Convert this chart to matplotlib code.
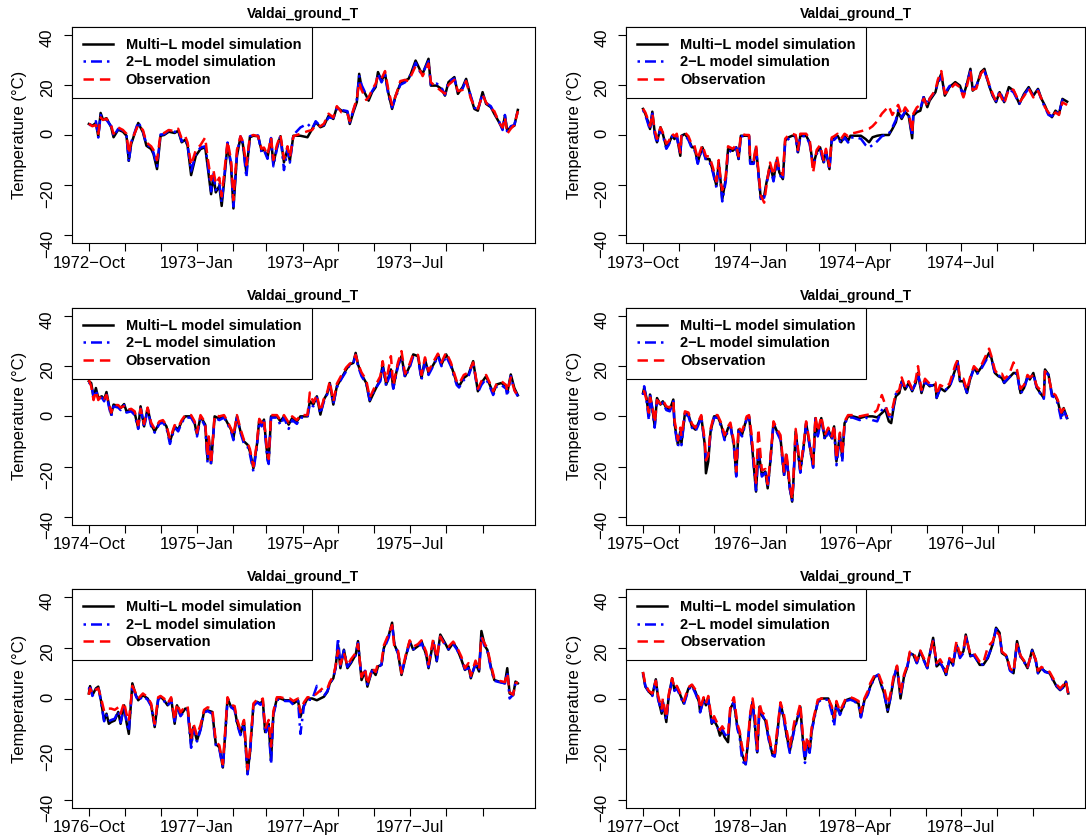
import numpy as np
import matplotlib
matplotlib.use("Agg")
import matplotlib.pyplot as plt
import matplotlib.dates as mdates

plt.rcParams['font.family'] = ['Liberation Sans', 'DejaVu Sans']
plt.rcParams['lines.scale_dashes'] = False

TITLE = "Valdai_ground_T"
YLABEL = "Temperature (°C)"
SERIES_LABELS = ["Multi\u2212L model simulation", "2\u2212L model simulation", "Observation"]
Y_TICKS = [-40, -20, 0, 20, 40]
MONTH_NAMES = ["Jan", "Feb", "Mar", "Apr", "May", "Jun",
               "Jul", "Aug", "Sep", "Oct", "Nov", "Dec"]
LABELLED_MONTHS = [10, 1, 4, 7]

# ---- hydrological year 1972/73 (days counted from 1 October) ----
p1_start = "1972-10-01"
p1_day = [0, 3, 6, 8, 10, 12, 15, 19, 21, 25,
          29, 32, 34, 36, 42, 46, 49, 53, 55, 58,
          61, 64, 68, 73, 76, 79, 82, 84, 87, 91,
          95, 99, 101, 104, 106, 108, 111, 113, 115, 118,
          121, 123, 126, 129, 131, 134, 137, 140, 144, 147,
          149, 152, 155, 157, 160, 163, 166, 169, 171, 174,
          180, 186, 190, 193, 197, 200, 204, 208, 211, 215,
          220, 222, 225, 228, 230, 232, 236, 238, 241, 244,
          246, 249, 252, 255, 258, 261, 265, 269, 272, 274,
          278, 282, 284, 289, 291, 296, 300, 303, 306, 311,
          314, 318, 321, 325, 328, 331, 335, 338, 342, 345,
          349, 352, 354, 356, 359, 362, 365]
p1_multi = [4.4, 3.7, 4.8, -0.5, 8.8, 6.1, 6.7, 3.1, -0.9, 2.1,
            1.3, -0.3, -10.3, -3.6, 4.8, 1.1, -4.3, -5.6, -7.6, -13.6,
            -0.3, 0.0, 1.3, 0.8, 1.7, -2.9, -1.9, -4.3, -16.0, -8.3,
            -5.6, -4.9, -12.3, -23.6, -16.3, -22.9, -20.3, -28.3, -18.9, -3.6,
            -12.3, -29.3, -8.3, -0.9, -3.6, -14.9, -0.9, -0.3, -0.5, -6.3,
            -5.6, -8.9, -1.6, -11.6, -4.9, -0.5, -10.9, -5.6, -10.3, -0.3,
            -0.3, -0.9, 2.4, 5.1, 3.1, 3.7, 7.7, 6.4, 11.1, 9.7,
            9.1, 4.4, 9.1, 13.1, 24.4, 19.1, 15.7, 13.7, 17.1, 19.1,
            25.1, 21.7, 24.4, 16.4, 10.4, 15.7, 20.4, 21.7, 22.4, 24.4,
            29.7, 25.7, 24.4, 30.4, 19.7, 19.7, 18.4, 15.7, 21.1, 23.1,
            16.4, 19.1, 22.4, 15.1, 10.4, 9.7, 17.1, 12.4, 11.1, 8.4,
            5.1, 2.4, 7.7, 1.7, 3.1, 3.7, 10.0]
p1_twol = [4.0, 4.2, 5.5, -1.0, 8.0, 6.5, 6.0, 3.5, -0.5, 2.5,
           1.8, 0.0, -10.8, -3.0, 5.2, 1.5, -3.8, -5.0, -7.0, -12.5,
           0.2, 0.3, 1.8, 1.2, 2.0, -2.5, -1.5, -4.0, -14.5, -7.5,
           -5.0, -4.5, -11.0, -22.5, -15.5, -22.0, -19.5, -27.0, -18.0, -3.0,
           -11.5, -28.5, -7.5, -0.5, -3.0, -17.0, -0.5, 0.0, -0.2, -7.0,
           -6.0, -9.5, -1.2, -12.5, -5.5, -0.3, -14.0, -6.0, -11.0, 0.0,
           3.0, 4.5, 2.5, 5.5, 3.5, 4.0, 7.0, 6.8, 10.5, 10.0,
           9.5, 5.0, 9.8, 14.0, 23.5, 20.0, 16.0, 14.5, 17.5, 19.8,
           24.5, 21.0, 24.0, 15.5, 11.0, 15.0, 20.0, 21.0, 22.8, 24.0,
           28.8, 25.0, 24.8, 29.5, 20.0, 20.5, 19.0, 16.0, 21.5, 22.5,
           17.0, 18.5, 22.0, 15.5, 11.0, 10.0, 16.5, 12.8, 11.5, 8.8,
           5.5, 2.0, 8.0, 1.0, 3.5, 4.0, 9.5]
p1_obs = [4.5, 3.5, 4.0, 0.5, 7.0, 6.0, 6.5, 3.8, 0.5, 3.0,
          2.0, 0.5, -7.5, -2.5, 4.0, 2.0, -3.0, -4.5, -6.0, -10.0,
          0.5, 0.8, 2.0, 1.5, 2.5, -1.5, -0.5, -3.0, -12.0, -6.0,
          -4.0, -1.0, -9.0, -18.0, -14.0, -19.5, -17.0, -24.5, -16.0, -2.5,
          -10.0, -26.0, -6.0, -0.5, -2.5, -12.0, -0.5, 0.0, -0.5, -5.5,
          -5.0, -8.0, -1.0, -10.0, -4.0, 0.0, -9.5, -4.5, -9.0, -0.5,
          0.5, 1.5, 2.0, 4.0, 3.5, 4.5, 8.5, 7.0, 11.5, 9.0,
          8.5, 5.5, 10.0, 14.5, 21.0, 18.0, 14.0, 15.0, 18.0, 20.5,
          23.5, 22.5, 25.5, 17.5, 12.0, 15.5, 21.5, 22.0, 21.5, 23.5,
          27.5, 25.5, 23.5, 28.5, 21.0, 19.0, 17.5, 16.5, 20.0, 22.0,
          17.5, 18.0, 21.5, 14.5, 11.5, 10.5, 16.0, 13.0, 10.5, 9.5,
          5.0, 3.0, 7.0, 0.5, 2.5, 4.0, 9.5]

# ---- hydrological year 1973/74 ----
p2_start = "1973-10-01"
p2_day = [0, 2, 4, 6, 8, 10, 12, 15, 17, 20,
          22, 25, 27, 29, 32, 33, 36, 39, 42, 44,
          47, 49, 51, 54, 57, 60, 63, 65, 67, 68,
          71, 73, 77, 80, 82, 84, 88, 91, 92, 95,
          97, 101, 104, 106, 109, 112, 115, 117, 120, 122,
          125, 128, 131, 133, 135, 140, 143, 146, 149, 152,
          155, 157, 160, 162, 164, 167, 170, 173, 176, 178,
          183, 187, 191, 194, 197, 201, 205, 211, 214, 217,
          219, 222, 225, 228, 231, 232, 235, 238, 241, 244,
          246, 251, 253, 256, 259, 263, 268, 272, 275, 278,
          281, 283, 286, 290, 293, 297, 300, 303, 306, 310,
          314, 318, 323, 327, 331, 335, 339, 342, 345, 348,
          351, 354, 357, 360, 364]
p2_multi = [10.4, 8.4, 5.7, 2.4, 9.3, 1.1, -2.9, 3.1, 0.4, -4.9,
            -3.6, -0.3, -1.6, -0.3, -8.3, -0.3, 0.4, -1.6, -4.9, -4.9,
            -10.9, -7.6, -4.9, -9.6, -9.6, -14.3, -20.3, -10.9, -20.3, -25.6,
            -17.6, -5.6, -6.3, -4.9, -9.6, -0.3, -0.3, -0.3, -10.9, -10.9,
            -4.9, -24.9, -24.3, -18.9, -12.3, -17.6, -9.6, -14.9, -17.6, -2.3,
            -0.9, -0.3, -0.3, -6.9, -0.3, -0.3, -2.9, -12.3, -6.9, -4.9,
            -10.9, -6.3, -13.6, -1.6, -1.6, -0.3, -2.9, -0.3, -2.3, -0.3,
            -0.3, -0.3, -1.6, -2.9, -0.9, -0.3, 0.0, 0.0, 2.4, 5.1,
            9.1, 6.4, 9.1, 7.7, -1.3, 7.7, 9.1, 9.7, 15.1, 11.1,
            13.7, 17.1, 21.1, 24.4, 15.7, 19.1, 21.1, 19.7, 15.7, 20.4,
            26.4, 17.7, 19.1, 25.1, 26.4, 19.7, 15.7, 13.1, 17.1, 13.1,
            19.1, 17.7, 12.4, 16.4, 19.1, 15.7, 18.4, 14.4, 11.7, 8.4,
            7.1, 9.7, 8.4, 14.4, 13.3]
p2_twol = [10.0, 8.0, 5.0, 2.0, 8.5, 0.5, -3.5, 2.5, 0.0, -5.5,
           -4.0, -0.5, -2.0, -0.5, -8.0, -0.5, 0.0, -2.0, -5.5, -5.5,
           -11.5, -8.0, -5.5, -10.0, -10.5, -15.0, -21.0, -11.5, -21.0, -26.5,
           -18.5, -6.0, -7.0, -5.0, -10.0, -0.5, -0.5, -0.5, -11.5, -11.5,
           -5.5, -25.5, -25.0, -19.5, -13.0, -18.5, -10.5, -15.5, -18.0, -3.0,
           -1.5, -0.5, -0.5, -7.5, -0.5, -0.5, -3.5, -12.5, -7.5, -5.5,
           -11.5, -7.0, -14.0, -2.0, -2.0, -0.5, -3.5, -1.0, -3.0, -1.0,
           -1.0, -1.5, -4.0, -5.0, -4.0, -2.5, -0.5, 0.5, 3.0, 6.0,
           10.0, 7.0, 9.5, 8.5, -0.5, 8.5, 10.0, 10.5, 15.5, 12.0,
           14.5, 17.5, 20.5, 23.5, 16.5, 19.5, 20.5, 19.0, 16.0, 21.0,
           25.5, 18.5, 19.5, 24.5, 25.5, 20.0, 16.0, 13.5, 17.5, 13.5,
           18.5, 17.0, 12.5, 16.0, 18.5, 16.0, 18.0, 14.0, 11.0, 8.0,
           7.5, 9.5, 8.5, 14.0, 13.5]
p2_obs = [10.5, 9.0, 6.5, 3.5, 8.5, 2.0, -1.5, 3.0, 1.0, -3.5,
          -2.5, 0.5, -0.5, 0.5, -7.0, 0.5, 1.0, -0.5, -4.0, -4.0,
          -9.5, -6.5, -4.0, -8.5, -8.5, -13.0, -18.5, -10.0, -19.5, -22.0,
          -16.5, -4.5, -5.5, -4.0, -8.5, 0.5, 0.0, 0.0, -9.5, -10.0,
          -4.0, -24.0, -27.0, -20.0, -11.0, -16.0, -8.5, -13.5, -16.0, -1.5,
          0.0, 0.5, 0.0, -6.0, 0.5, 0.5, -1.5, -15.0, -6.0, -4.0,
          -10.0, -5.5, -12.5, -1.0, -0.5, 0.5, -1.5, 0.5, -0.5, 0.5,
          1.0, 1.5, 2.0, 2.5, 3.5, 5.5, 8.5, 11.5, 8.0, 10.5,
          12.0, 8.0, 11.0, 9.0, 1.0, 8.5, 11.0, 12.0, 14.5, 11.5,
          14.5, 18.0, 22.0, 25.5, 16.5, 18.0, 20.5, 19.0, 15.0, 19.5,
          25.5, 18.0, 18.5, 24.5, 26.0, 20.5, 16.5, 13.5, 16.5, 12.5,
          18.5, 18.0, 13.0, 15.5, 18.5, 15.0, 17.5, 14.5, 11.0, 9.0,
          7.5, 9.0, 8.0, 13.0, 12.0]

# ---- hydrological year 1974/75 ----
p3_start = "1974-10-01"
p3_day = [0, 2, 4, 6, 8, 11, 13, 15, 17, 19,
          21, 25, 27, 30, 32, 36, 39, 42, 44, 47,
          50, 53, 56, 60, 63, 66, 69, 73, 76, 79,
          82, 87, 90, 92, 95, 99, 101, 102, 104, 107,
          111, 115, 118, 121, 123, 126, 129, 132, 135, 137,
          140, 143, 145, 147, 149, 152, 153, 155, 160, 163,
          166, 170, 173, 177, 180, 186, 188, 191, 194, 197,
          200, 203, 205, 208, 211, 215, 219, 222, 225, 227,
          229, 232, 236, 239, 243, 248, 250, 253, 257, 259,
          263, 266, 269, 273, 276, 280, 283, 286, 289, 294,
          297, 300, 304, 308, 313, 315, 319, 323, 327, 331,
          334, 338, 341, 344, 347, 351, 355, 356, 359, 362,
          365]
p3_multi = [14.0, 13.3, 7.3, 11.3, 7.3, 8.0, 6.7, 9.7, 4.7, 0.7,
            4.7, 4.0, 3.3, 4.9, 2.0, 2.7, 1.3, -4.7, 4.0, -4.0,
            3.3, -3.3, -6.0, -2.7, -2.0, -4.0, -10.0, -4.0, -5.3, -2.0,
            0.0, 0.0, -2.7, -7.3, 0.0, -3.3, -17.3, -8.7, -18.7, 0.0,
            -0.9, 0.0, -2.7, -5.3, -8.7, 0.0, -6.0, -10.0, -11.3, -14.0,
            -20.7, -11.3, -1.3, -3.3, -1.3, -16.7, -18.0, 0.0, 0.0, -2.0,
            0.0, -3.3, -0.7, -2.0, 0.0, 0.0, 6.0, 4.7, 8.0, 0.7,
            6.7, 9.3, 13.3, 4.7, 12.0, 15.3, 18.7, 20.7, 21.3, 25.3,
            20.7, 16.7, 13.3, 6.0, 10.0, 14.7, 20.7, 12.7, 18.7, 11.3,
            20.7, 24.0, 16.0, 20.0, 24.7, 24.0, 15.3, 22.7, 17.3, 21.3,
            24.7, 20.7, 24.7, 20.7, 13.3, 12.0, 15.3, 16.7, 22.0, 10.0,
            13.3, 16.0, 12.7, 9.3, 12.7, 13.3, 12.0, 9.3, 16.7, 11.3,
            8.4]
p3_twol = [13.5, 12.5, 8.0, 10.5, 7.0, 7.5, 6.0, 9.0, 4.0, 0.0,
           4.0, 3.5, 2.5, 4.5, 1.5, 2.0, 0.5, -5.0, 3.5, -4.5,
           3.0, -4.0, -6.5, -3.0, -2.5, -4.5, -11.0, -4.5, -6.0, -2.5,
           -0.5, -0.5, -3.0, -8.0, -0.5, -4.0, -18.5, -9.5, -19.5, -0.5,
           -1.5, -0.5, -3.0, -6.0, -9.5, -0.5, -6.5, -11.0, -12.0, -15.0,
           -22.0, -12.0, -2.0, -4.0, -2.0, -17.5, -19.0, -0.5, -0.5, -3.5,
           -0.5, -5.0, -1.5, -3.0, -0.5, -0.5, 5.0, 4.0, 7.5, 1.0,
           6.0, 9.0, 12.5, 5.0, 11.5, 15.0, 18.0, 20.5, 21.0, 24.5,
           20.0, 16.0, 13.0, 6.5, 10.5, 14.0, 20.0, 12.0, 18.0, 11.0,
           20.0, 23.5, 15.5, 19.5, 24.0, 23.5, 14.5, 22.0, 16.5, 21.0,
           24.0, 20.0, 24.0, 20.0, 12.5, 11.5, 14.5, 16.0, 21.5, 9.5,
           12.5, 15.0, 12.0, 8.5, 12.0, 12.5, 11.0, 8.0, 16.0, 10.5,
           8.0]
p3_obs = [14.5, 12.0, 6.5, 10.0, 6.5, 8.5, 7.0, 8.5, 5.0, 1.5,
          4.5, 4.5, 3.5, 4.0, 2.5, 3.0, 2.0, -3.5, 3.0, -3.0,
          3.5, -2.5, -5.0, -2.0, -1.5, -3.5, -9.0, -3.5, -4.5, -1.5,
          0.5, 0.5, -2.0, -6.5, 0.5, -2.5, -16.0, -8.0, -19.0, 0.5,
          0.0, 0.5, -2.0, -5.0, -7.5, 0.5, -5.0, -9.5, -10.5, -13.0,
          -20.0, -10.5, -1.0, -2.5, -1.0, -15.5, -17.0, 0.5, 0.5, -1.5,
          0.5, -2.5, 0.0, -1.5, 0.5, 0.5, 9.5, 5.5, 8.5, 2.0,
          7.0, 10.0, 14.0, 6.0, 13.0, 16.5, 19.5, 21.0, 22.0, 24.5,
          21.0, 17.5, 14.5, 7.5, 11.5, 16.0, 22.0, 14.0, 24.0, 12.5,
          21.5, 26.0, 17.0, 21.0, 25.0, 24.5, 16.5, 23.5, 18.0, 22.5,
          25.0, 21.5, 25.5, 21.5, 14.0, 13.0, 16.5, 17.5, 21.5, 11.0,
          14.0, 16.5, 13.5, 10.0, 13.0, 14.0, 12.5, 10.0, 15.5, 10.5,
          8.0]

# ---- hydrological year 1975/76 ----
p4_start = "1975-10-01"
p4_day = [0, 1, 3, 5, 6, 8, 10, 12, 15, 17,
          20, 23, 26, 27, 29, 30, 32, 33, 36, 39,
          42, 45, 47, 50, 53, 54, 56, 58, 61, 64,
          67, 70, 73, 75, 78, 80, 82, 85, 89, 91,
          93, 97, 99, 102, 105, 107, 109, 112, 115, 118,
          121, 123, 126, 128, 129, 131, 132, 135, 138, 140,
          143, 146, 148, 150, 153, 156, 159, 162, 164, 166,
          169, 171, 173, 176, 180, 186, 191, 197, 201, 205,
          208, 211, 213, 215, 217, 220, 222, 225, 228, 231,
          234, 236, 239, 242, 246, 251, 252, 255, 259, 263,
          268, 270, 272, 275, 278, 281, 284, 287, 291, 294,
          297, 299, 302, 305, 308, 310, 314, 318, 321, 324,
          327, 330, 332, 335, 338, 341, 344, 345, 348, 351,
          354, 356, 359, 361, 364]
p4_multi = [9.3, 11.3, 7.3, 0.0, 8.7, 3.3, -4.0, 7.3, 4.7, 6.0,
            3.3, 2.7, 6.7, -2.7, -8.7, -11.3, -6.0, -10.7, 1.3, 0.7,
            -4.0, -5.3, -3.3, 0.0, -11.3, -22.7, -18.0, -6.0, 0.0, 0.0,
            -3.3, -8.7, -4.7, -3.3, -11.3, -23.3, -5.3, -7.3, -0.7, 0.0,
            -8.7, -30.0, -13.3, -23.3, -22.0, -28.7, -19.3, -2.7, -6.0, -8.7,
            -23.3, -15.3, -28.7, -34.0, -26.7, -6.0, -10.0, -22.0, -11.3, -2.7,
            -11.3, -20.0, -0.7, -7.3, -0.7, -8.7, -5.3, -8.7, -4.0, -18.0,
            -7.3, -16.7, -2.7, 0.0, 0.0, -0.7, 0.0, 0.0, -0.4, 1.3,
            2.7, -2.0, -2.7, 3.3, 8.0, 9.3, 14.0, 10.7, 13.3, 10.0,
            13.3, 17.3, 9.3, 14.0, 12.0, 12.7, 7.3, 11.3, 10.0, 12.0,
            18.7, 22.0, 14.0, 14.0, 9.3, 15.3, 19.3, 17.3, 20.0, 22.7,
            25.3, 23.3, 17.3, 16.0, 15.3, 13.3, 15.3, 17.3, 17.3, 9.3,
            11.3, 16.0, 14.7, 17.3, 11.3, 9.3, 7.3, 18.7, 16.7, 8.7,
            8.0, 6.0, 0.0, 3.3, -0.7]
p4_twol = [8.5, 12.0, 6.5, -1.5, 9.0, 2.5, -4.5, 6.5, 4.0, 5.5,
           2.5, 2.0, 6.0, -3.5, -9.5, -12.0, -7.0, -11.5, 1.0, 0.0,
           -4.5, -6.0, -4.0, -0.5, -11.0, -17.5, -16.0, -6.5, -0.5, -0.5,
           -4.0, -9.5, -5.5, -4.0, -12.0, -24.0, -6.0, -8.0, -1.0, -0.5,
           -9.5, -29.5, -14.0, -24.0, -22.5, -28.0, -20.0, -3.0, -6.5, -9.5,
           -24.0, -16.0, -29.0, -33.5, -27.0, -6.5, -11.0, -22.5, -12.0, -3.0,
           -12.0, -20.5, -1.0, -8.0, -1.0, -9.5, -6.0, -9.5, -5.0, -19.5,
           -8.0, -18.0, -3.0, -0.5, -0.5, -1.5, -0.5, -1.5, -2.0, 2.5,
           4.0, 0.0, -1.5, 4.0, 9.0, 10.0, 13.5, 11.0, 13.0, 10.5,
           13.0, 17.0, 10.0, 13.5, 12.5, 12.0, 7.5, 11.0, 10.5, 11.5,
           18.0, 21.5, 14.5, 13.5, 9.5, 15.0, 19.0, 17.0, 19.5, 22.0,
           24.5, 23.0, 17.0, 16.5, 15.0, 13.5, 15.5, 17.0, 17.0, 9.0,
           11.0, 15.5, 14.5, 17.0, 11.0, 9.0, 7.0, 18.0, 16.5, 8.0,
           7.5, 5.0, -1.5, 2.5, -1.0]
p4_obs = [10.0, 10.0, 6.5, 1.5, 7.5, 4.0, -2.5, 6.5, 5.0, 6.5,
          4.0, 3.5, 6.0, -1.5, -6.5, -9.5, -4.5, -8.0, 2.0, 1.5,
          -3.0, -4.5, -2.5, 0.5, -9.5, -17.5, -15.5, -5.0, 0.5, 0.5,
          -2.5, -7.5, -4.0, -2.5, -10.0, -22.0, -4.5, -6.0, 0.0, 0.5,
          -6.5, -26.5, -5.0, -21.5, -21.0, -27.0, -18.5, -2.0, -5.0, -7.5,
          -22.0, -14.0, -27.5, -33.0, -25.5, -5.0, -9.0, -21.0, -10.5, -2.0,
          -10.5, -19.0, 0.0, -6.0, 0.0, -7.5, -4.5, -8.0, -3.5, -17.0,
          -6.5, -15.5, -2.0, 0.5, 0.5, 0.0, 0.5, 1.0, 2.5, 8.5,
          4.5, 0.5, 1.0, 5.0, 9.5, 10.5, 15.5, 11.5, 14.0, 11.0,
          14.5, 20.0, 10.5, 15.0, 13.0, 13.5, 8.5, 12.5, 11.5, 13.0,
          20.5, 22.5, 15.0, 15.0, 10.5, 16.0, 20.0, 18.5, 21.0, 24.0,
          27.0, 24.0, 18.5, 16.5, 17.0, 15.0, 16.5, 21.5, 18.5, 11.0,
          12.5, 16.5, 15.5, 16.5, 12.0, 10.5, 8.5, 18.0, 16.0, 9.5,
          8.5, 6.5, 1.5, 3.0, 0.0]

# ---- hydrological year 1976/77 ----
p5_start = "1976-10-01"
p5_day = [0, 1, 3, 6, 8, 10, 13, 15, 17, 19,
          22, 25, 27, 30, 32, 34, 36, 37, 40, 42,
          46, 50, 53, 56, 59, 61, 64, 67, 70, 73,
          75, 78, 82, 84, 87, 89, 92, 95, 98, 101,
          105, 108, 111, 114, 116, 118, 121, 124, 126, 129,
          132, 135, 137, 140, 143, 146, 148, 150, 153, 155,
          157, 160, 163, 167, 171, 174, 178, 180, 183, 186,
          190, 194, 200, 203, 205, 208, 210, 212, 214, 217,
          220, 223, 227, 229, 232, 235, 237, 241, 244, 246,
          249, 251, 255, 258, 260, 263, 266, 270, 273, 276,
          280, 283, 287, 289, 293, 296, 299, 303, 306, 310,
          313, 317, 320, 323, 325, 329, 332, 334, 337, 339,
          342, 345, 349, 354, 356, 358, 361, 363, 365]
p5_multi = [2.0, 4.9, 1.3, 4.0, 4.7, 0.0, -8.7, -6.0, -10.0, -9.3,
            -8.7, -5.3, -10.0, -2.7, -9.3, -14.0, -0.7, 6.0, 1.3, -0.7,
            1.3, 0.0, -2.7, -11.3, 0.0, 0.7, -0.7, -2.7, 0.0, -10.0,
            -2.7, -6.7, -4.0, -4.0, -18.0, -11.3, -16.7, -12.0, -5.3, -4.7,
            -5.3, -18.0, -19.3, -27.3, -14.0, 0.0, -3.3, -4.0, -9.3, -14.0,
            -9.3, -29.3, -22.0, -2.7, -1.3, -2.0, -0.7, -13.3, -10.0, -24.7,
            -6.0, 0.0, 0.0, -0.7, -0.7, -2.0, -0.7, -7.3, -2.7, 0.0,
            0.0, -0.7, 0.7, 2.7, 6.0, 8.0, 12.7, 21.3, 12.0, 19.3,
            12.0, 14.0, 17.3, 22.7, 7.3, 10.7, 4.7, 11.3, 9.3, 12.7,
            13.3, 20.0, 24.7, 30.0, 21.3, 18.0, 9.3, 17.3, 22.7, 19.3,
            20.7, 22.7, 17.3, 12.0, 22.7, 14.7, 25.3, 22.0, 19.3, 22.0,
            20.0, 15.3, 11.3, 12.7, 8.0, 14.0, 10.7, 26.7, 20.7, 19.3,
            12.7, 7.3, 6.7, 6.0, 12.0, 2.0, 1.3, 6.7, 6.0]
p5_twol = [3.5, 5.5, 1.0, 3.5, 5.0, -0.5, -9.0, -6.5, -9.0, -8.5,
           -8.0, -5.0, -9.5, -3.0, -9.0, -13.0, -1.0, 5.0, 1.0, -1.0,
           1.0, -0.5, -3.0, -10.5, -0.5, 0.5, -1.0, -3.0, -0.5, -9.0,
           -3.0, -7.0, -4.5, -4.5, -19.5, -12.0, -17.0, -12.5, -5.5, -5.0,
           -6.0, -18.5, -20.0, -27.5, -14.5, -0.5, -3.5, -4.5, -10.0, -14.5,
           -10.0, -30.0, -22.5, -3.0, -1.5, -2.5, -1.0, -14.0, -11.0, -26.0,
           -6.5, -0.5, -0.5, -1.0, -1.0, -2.5, -1.0, -14.0, -3.0, -0.5,
           -0.5, 5.0, 1.0, 3.0, 5.5, 8.5, 12.0, 24.0, 13.0, 19.0,
           12.5, 14.5, 17.0, 22.0, 8.0, 11.0, 5.5, 11.0, 9.5, 12.0,
           13.5, 19.5, 24.0, 29.5, 21.0, 18.0, 10.0, 17.0, 22.0, 19.5,
           20.0, 22.0, 17.0, 12.5, 22.0, 15.0, 24.5, 21.5, 19.5, 21.5,
           19.5, 15.5, 11.5, 12.0, 8.5, 13.5, 11.0, 24.0, 20.5, 19.0,
           12.0, 7.0, 6.5, 6.0, 10.5, 0.0, 1.5, 6.0, 5.5]
p5_obs = [1.5, 4.0, 2.0, 3.5, 4.0, 1.0, -5.0, -4.0, -4.0, -4.0,
          -4.5, -3.5, -6.0, -1.5, -6.0, -9.0, 0.0, 5.0, 2.0, 0.0,
          2.0, 0.5, -2.0, -10.0, 0.5, 1.0, 0.0, -2.0, 0.5, -8.5,
          -2.0, -5.5, -3.0, -3.0, -16.0, -10.0, -14.5, -10.5, -4.5, -3.5,
          -4.0, -17.0, -18.5, -26.0, -13.0, 0.5, -2.5, -3.0, -8.0, -12.5,
          -8.5, -28.0, -20.5, -2.0, -0.5, -1.0, 0.0, -12.0, -8.5, -19.0,
          -5.0, 0.5, 0.5, 0.0, 0.0, -1.0, 0.0, -5.5, -1.5, 0.5,
          0.5, 2.0, 4.5, 4.0, 6.5, 9.0, 13.0, 19.0, 13.5, 18.0,
          13.0, 15.5, 18.0, 21.5, 8.5, 12.0, 5.5, 12.0, 10.5, 14.0,
          14.5, 21.0, 25.5, 29.0, 20.0, 19.0, 10.0, 18.0, 23.0, 20.5,
          21.5, 23.0, 18.5, 13.5, 23.5, 16.0, 24.5, 21.0, 20.5, 22.5,
          20.5, 16.5, 12.0, 14.0, 9.0, 15.0, 11.5, 24.5, 21.5, 20.0,
          13.5, 8.0, 7.0, 6.5, 10.0, 2.5, 1.5, 6.0, 6.5]

# ---- hydrological year 1977/78 ----
p6_start = "1977-10-01"
p6_day = [0, 2, 5, 8, 11, 13, 16, 17, 20, 22,
          25, 27, 29, 32, 35, 39, 42, 45, 48, 49,
          52, 54, 56, 59, 61, 64, 66, 68, 70, 73,
          75, 78, 81, 83, 85, 88, 90, 92, 94, 96,
          98, 100, 102, 105, 108, 111, 113, 115, 118, 121,
          123, 126, 128, 130, 132, 135, 137, 139, 141, 143,
          145, 147, 150, 153, 159, 162, 164, 166, 169, 171,
          174, 178, 181, 185, 187, 190, 193, 195, 199, 202,
          204, 207, 210, 212, 215, 218, 221, 224, 227, 229,
          232, 235, 238, 241, 244, 246, 249, 252, 255, 258,
          260, 263, 266, 269, 272, 275, 277, 281, 284, 289,
          292, 296, 300, 303, 306, 308, 312, 315, 318, 321,
          324, 327, 330, 334, 337, 339, 342, 345, 349, 352,
          355, 358, 361, 363, 365]
p6_multi = [10.0, 4.7, 2.7, 1.3, 7.6, 0.0, -6.0, -1.3, -9.3, 0.7,
            8.0, 3.3, 4.7, 1.3, -2.0, 4.0, 5.3, 2.7, -1.3, -5.3,
            0.0, -2.7, 0.0, -10.0, -8.7, -11.3, -14.7, -12.7, -15.3, -17.3,
            -4.0, -1.3, -11.3, -14.0, -22.0, -26.0, -18.0, -7.3, -1.3, -10.0,
            -21.3, -3.3, -6.7, -8.7, -16.0, -22.0, -22.7, -14.7, -2.0, -8.0,
            -14.0, -20.7, -16.0, -11.3, -8.7, -3.3, -15.3, -24.0, -16.7, -20.7,
            -12.0, -7.3, -1.3, 0.0, 0.0, -4.0, -8.7, -2.0, -6.0, -4.0,
            -0.7, 0.0, -0.7, -2.0, -7.3, -0.7, 2.0, 4.7, 8.7, 9.3,
            6.0, 2.0, -5.3, -0.7, 7.3, 12.7, 0.0, 8.7, 12.7, 18.0,
            17.3, 14.0, 18.7, 15.3, 12.0, 17.3, 24.0, 12.7, 14.0, 12.0,
            9.3, 15.3, 13.3, 21.3, 16.7, 18.7, 25.3, 16.7, 17.3, 13.3,
            13.3, 16.0, 21.3, 28.0, 26.0, 18.0, 16.7, 11.3, 10.0, 22.7,
            16.7, 14.7, 12.0, 19.3, 15.3, 10.0, 12.0, 10.7, 10.0, 7.3,
            4.7, 3.3, 4.7, 6.7, 2.0]
p6_twol = [9.5, 5.0, 2.5, 1.0, 7.0, -0.5, -5.0, -1.5, -8.5, 0.5,
           7.5, 3.0, 4.0, 1.0, -2.5, 3.5, 5.0, 2.0, -1.5, -5.5,
           -0.5, -3.0, -0.5, -9.5, -8.5, -11.5, -13.5, -12.0, -14.0, -15.5,
           -3.5, -1.5, -12.0, -15.5, -24.0, -27.0, -17.5, -6.5, -1.5, -11.0,
           -22.0, -3.5, -6.0, -9.0, -16.5, -22.5, -23.0, -15.0, -2.5, -8.5,
           -14.5, -21.5, -16.5, -12.0, -9.0, -4.0, -16.0, -25.5, -17.0, -21.5,
           -12.5, -8.0, -1.5, -0.5, -0.5, -5.5, -11.0, -2.5, -6.5, -4.5,
           -1.0, -0.5, -1.0, -2.5, -7.5, -1.0, 1.5, 4.5, 8.5, 9.5,
           6.5, 1.5, -4.5, -0.5, 8.0, 12.5, 1.0, 8.5, 13.0, 17.5,
           17.5, 14.0, 18.0, 15.0, 12.0, 17.0, 23.5, 13.0, 14.5, 11.5,
           9.0, 15.5, 13.0, 21.5, 16.0, 18.0, 24.5, 17.0, 17.0, 13.5,
           13.5, 16.5, 21.0, 27.5, 25.5, 18.5, 16.5, 11.0, 10.0, 22.0,
           16.5, 14.5, 12.0, 19.0, 15.0, 10.0, 12.0, 10.5, 10.0, 7.0,
           5.0, 3.5, 4.5, 6.5, 2.0]
p6_obs = [10.5, 5.5, 3.0, 2.0, 7.0, 1.0, -4.0, 0.0, -7.5, 1.5,
          8.0, 4.0, 5.0, 2.0, -1.0, 4.5, 5.5, 3.5, 0.0, -4.0,
          0.5, -2.0, 1.0, -8.5, -7.0, -10.0, -12.5, -11.0, -12.5, -14.0,
          -3.0, 0.5, -10.0, -13.0, -19.0, -24.5, -16.5, -6.0, 0.0, -6.0,
          -20.0, -2.0, -5.5, -6.5, -14.5, -21.0, -21.5, -13.0, -1.5, -6.5,
          -12.0, -19.0, -14.0, -9.0, -7.5, -2.0, -13.5, -21.5, -15.0, -19.0,
          -10.5, -6.5, -0.5, 0.0, 0.0, -3.0, -7.5, -1.0, -5.0, -3.0,
          0.0, 0.5, 0.0, -1.0, -5.5, 0.0, 3.0, 6.0, 9.5, 10.0,
          7.5, 4.0, -2.0, 1.0, 8.5, 13.0, 2.0, 9.5, 13.5, 18.5,
          18.5, 15.0, 19.0, 16.0, 13.0, 17.5, 23.0, 14.0, 15.5, 13.0,
          10.5, 16.0, 14.5, 22.5, 17.5, 19.5, 24.5, 17.5, 18.0, 14.5,
          14.0, 20.5, 22.5, 26.5, 25.0, 18.5, 17.0, 12.0, 10.5, 21.5,
          17.0, 15.0, 12.5, 18.5, 15.5, 11.0, 12.5, 11.5, 10.5, 8.0,
          5.5, 4.0, 5.5, 7.0, 1.5]

panels = [
    (p1_start, p1_day, p1_multi, p1_twol, p1_obs),
    (p2_start, p2_day, p2_multi, p2_twol, p2_obs),
    (p3_start, p3_day, p3_multi, p3_twol, p3_obs),
    (p4_start, p4_day, p4_multi, p4_twol, p4_obs),
    (p5_start, p5_day, p5_multi, p5_twol, p5_obs),
    (p6_start, p6_day, p6_multi, p6_twol, p6_obs),
]

# ---- figure geometry (pixels) ----
W, H = 1086, 839
DPI = 100
fig = plt.figure(figsize=(W / DPI, H / DPI), dpi=DPI)

col_left = [71.7, 626.0]
col_width = [463.3, 459.3]
row_top = [26.7, 308.0, 589.3]
row_height = [216.6, 216.7, 218.4]

line_styles = [
    dict(color="black", lw=1.8, linestyle="-", zorder=2),
    dict(color="#0000ff", lw=1.8, linestyle=(0, (1.8, 3.6, 7.9, 3.6)), zorder=3),
    dict(color="#ff0000", lw=1.8, linestyle=(0, (7.5, 4.3)), zorder=4),
]

for i, (start, day, multi, twol, obs) in enumerate(panels):
    r, c = divmod(i, 2)
    left = col_left[c] / W
    bottom = (H - row_top[r] - row_height[r]) / H
    ax = fig.add_axes([left, bottom, col_width[c] / W, row_height[r] / H])

    t0 = mdates.date2num(np.datetime64(start))
    x = t0 + np.asarray(day, dtype=float)
    for y, lab, st in zip((multi, twol, obs), SERIES_LABELS, line_styles):
        ax.plot(x, y, label=lab, solid_joinstyle="round", **st)

    # monthly ticks, labelled every quarter
    year0 = int(start[:4])
    tick_pos, tick_lab = [], []
    for k in range(12):
        m = (9 + k) % 12 + 1
        yr = year0 + (1 if m < 10 else 0)
        tick_pos.append(mdates.date2num(np.datetime64(f"{yr}-{m:02d}-01")))
        tick_lab.append(f"{yr}\u2212{MONTH_NAMES[m - 1]}" if m in LABELLED_MONTHS else "")
    ax.set_xticks(tick_pos)
    ax.set_xticklabels(tick_lab)
    ax.set_xlim(t0 - 14.6, t0 + 365 + 14.6)

    ax.set_ylim(-43.2, 43.2)
    ax.set_yticks(Y_TICKS)
    ax.set_yticklabels([str(v).replace("-", "\u2212") for v in Y_TICKS])

    ax.tick_params(axis="both", direction="out", length=5.5, width=0.8,
                   labelsize=12, color="black")
    ax.tick_params(axis="x", pad=3.5)
    ax.tick_params(axis="y", pad=6.5, labelrotation=90)
    for sp in ax.spines.values():
        sp.set_linewidth(0.8)
        sp.set_color("black")

    ax.set_title(TITLE, fontsize=10, fontweight="bold", pad=6)

    ax_h = row_height[r]
    fig.text((col_left[c] - 51.7) / W, (H - row_top[r] - ax_h / 2) / H, YLABEL,
             rotation=90, ha="center", va="center", fontsize=12)

    leg = ax.legend(loc="upper left", bbox_to_anchor=(0, 1), borderaxespad=0,
                    prop={"weight": "bold", "size": 10.5}, handlelength=2.05,
                    handletextpad=0.9, borderpad=0.75, labelspacing=0.24,
                    fancybox=False, framealpha=1, edgecolor="black")
    leg.get_frame().set_linewidth(0.8)

fig.savefig("out.png", dpi=DPI)
